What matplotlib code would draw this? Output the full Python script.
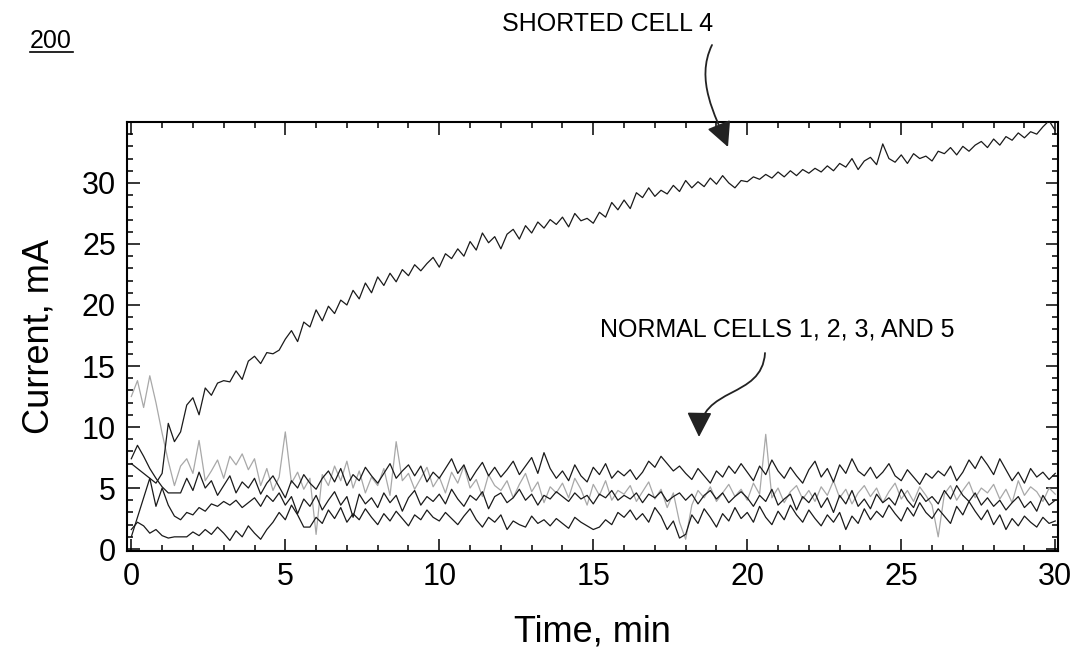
import matplotlib
matplotlib.use('Agg')
import matplotlib.pyplot as plt
import matplotlib.transforms as mtransforms
import numpy as np
from matplotlib.lines import Line2D
from matplotlib.patches import FancyArrowPatch
from matplotlib.path import Path

plt.rcParams['font.family'] = ['Liberation Sans', 'DejaVu Sans']

# sample times, min (0 to 30 every 0.2 min)
time_min = np.round(np.arange(151) * 0.2, 1)

# shorted cell 4, mA
shorted_cell_4 = [
    7.0, 6.6, 6.2, 5.8, 5.4, 6.2, 10.3, 8.8, 9.6, 11.8,
    12.4, 11.0, 13.2, 12.6, 13.6, 13.8, 13.7, 14.6, 13.9, 15.4,
    15.8, 15.2, 16.1, 16.0, 16.3, 17.2, 17.9, 17.0, 18.6, 18.2,
    19.6, 18.7, 19.9, 19.3, 20.4, 20.0, 21.2, 20.5, 21.8, 21.0,
    22.3, 21.6, 22.6, 21.9, 22.9, 22.4, 23.3, 22.8, 23.4, 23.9,
    23.1, 24.2, 23.8, 24.6, 24.0, 25.2, 24.5, 25.9, 25.1, 25.6,
    24.6, 25.8, 26.2, 25.4, 26.5, 25.9, 26.8, 26.3, 27.0, 26.6,
    27.2, 26.4, 27.5, 26.9, 27.1, 26.7, 27.6, 27.2, 28.4, 27.8,
    28.6, 27.9, 29.2, 28.8, 29.6, 28.9, 29.4, 29.1, 29.8, 29.3,
    30.2, 29.6, 30.1, 29.7, 30.4, 29.9, 30.6, 30.0, 29.6, 30.2,
    30.1, 30.5, 30.3, 30.7, 30.4, 30.9, 30.5, 31.0, 30.6, 31.1,
    30.8, 31.2, 30.9, 31.4, 31.0, 31.6, 31.3, 32.0, 31.1, 31.8,
    32.1, 31.5, 33.2, 32.0, 31.7, 32.3, 31.6, 32.4, 32.0, 32.2,
    31.8, 32.6, 32.4, 32.9, 32.3, 33.0, 32.6, 33.1, 33.4, 32.9,
    33.6, 33.1, 33.8, 33.5, 34.1, 33.7, 34.2, 34.0, 34.6, 35.1,
    34.3,
]

# normal cell drawn in light gray
normal_gray = [
    12.5, 13.8, 11.6, 14.2, 12.0, 9.5, 7.2, 5.2, 6.8, 7.4,
    6.2, 8.9, 5.6, 6.4, 7.3, 5.8, 7.6, 6.9, 7.8, 6.5,
    7.4, 5.2, 6.6, 4.8, 5.9, 9.6, 5.4, 6.3, 4.9, 5.8,
    1.2, 6.1, 5.2, 6.8, 5.6, 7.2, 5.0, 6.4, 4.6, 5.9,
    5.2, 6.6, 4.4, 8.8, 5.6, 6.2, 4.9, 5.8, 6.7, 5.1,
    5.9, 4.6, 6.3, 5.4, 6.8, 5.0, 5.7, 4.3, 6.1, 5.2,
    4.8, 5.6, 4.2, 5.3, 6.2, 4.7, 5.5, 3.8, 5.1, 4.6,
    5.4, 4.2, 5.8, 4.9, 3.6, 5.3, 4.4, 5.6, 4.0, 4.8,
    4.5, 5.2, 3.9, 4.7, 5.5, 4.1, 4.9, 3.4, 4.6, 2.2,
    0.8, 3.6, 4.8, 4.2, 5.1, 3.9, 4.6, 5.3, 4.3, 4.9,
    4.0, 5.4, 4.5, 9.4, 4.2, 5.0, 3.8, 4.7, 5.2, 4.1,
    4.8, 3.9, 5.1, 4.4, 5.6, 4.2, 4.9, 3.7, 4.6, 5.2,
    4.3, 5.0, 3.8, 4.7, 5.4, 4.1, 4.8, 3.9, 5.1, 4.4,
    3.6, 1.0, 4.5, 5.2, 4.0, 4.8, 5.5, 4.2, 5.0, 4.6,
    5.3, 4.1, 4.9, 3.8, 5.6, 4.4, 5.1, 4.7, 3.9, 5.0,
    4.5,
]

# normal cell, upper black trace
normal_upper = [
    7.4, 8.5, 7.6, 6.6, 5.8, 5.1, 4.6, 4.6, 4.6, 5.8,
    4.8, 6.3, 5.0, 5.6, 4.4, 5.2, 6.0, 4.6, 5.5, 5.0,
    5.8, 4.5, 5.4, 6.0, 5.1, 4.2, 5.6, 5.0, 6.1, 5.4,
    4.9, 5.8, 6.4, 5.5, 6.6, 5.2, 6.1, 5.6, 6.7, 6.0,
    5.4, 6.2, 7.0, 5.8, 6.4, 6.9, 6.0, 6.8, 5.5, 6.3,
    5.8, 6.6, 7.4, 6.2, 6.9, 5.6, 6.4, 7.1, 6.0, 6.7,
    5.9, 6.5, 7.2, 6.1, 6.8, 7.5, 6.2, 7.9, 6.6, 5.8,
    6.4, 5.6, 6.9, 6.0, 5.5, 6.7, 6.1, 7.0, 5.8, 6.4,
    6.0, 6.5, 5.7, 6.3, 7.2, 6.7, 7.6, 7.0, 6.4, 6.8,
    6.2, 5.7, 6.6, 6.0, 5.4, 6.4, 5.9, 6.8, 6.2, 7.0,
    6.3, 5.6, 6.8, 6.1, 7.3, 6.4, 5.8, 6.7, 6.0, 5.4,
    6.5, 7.2, 5.9, 6.6, 5.5, 6.9, 6.2, 7.4, 6.4, 6.0,
    6.7, 5.8, 6.3, 7.0, 6.0, 5.6, 6.5, 5.9, 5.3, 6.2,
    5.8, 6.4, 6.0, 6.8, 5.6, 6.3, 7.3, 6.6, 7.6, 6.9,
    6.1, 7.4, 6.5, 5.6, 6.3, 5.4, 6.6, 5.9, 6.3, 5.7,
    6.2,
]

# normal cell, middle black trace
normal_middle = [
    1.0, 2.6, 4.2, 5.8, 3.5, 5.0, 3.6, 2.7, 2.4, 3.0,
    2.8, 3.4, 3.1, 3.7, 3.5, 3.9, 3.6, 4.0, 3.4, 3.8,
    4.2, 3.5, 4.4, 3.9, 4.6, 3.6, 4.3, 2.9, 4.1, 3.5,
    4.4, 3.2, 4.0, 4.7, 3.6, 4.3, 2.6, 4.5, 3.7, 4.2,
    3.4, 4.6, 3.8, 4.4, 3.1, 4.2, 4.8, 3.6, 4.3, 3.9,
    4.5, 3.7, 4.9, 4.1, 3.5, 4.4, 4.0, 4.7, 3.3, 4.3,
    4.6, 3.8, 4.2, 4.9, 4.0, 4.5, 3.6, 4.4, 4.1, 4.7,
    4.3, 3.9, 4.6, 4.1, 4.4, 3.7, 4.5, 4.2, 4.8, 4.0,
    4.4, 4.1, 4.6, 3.8, 4.5, 4.2, 4.7, 3.9, 4.3, 4.6,
    4.0, 4.5, 3.7, 4.4, 4.8, 4.1, 4.6, 3.8, 4.3, 4.7,
    4.2, 3.5, 4.4, 3.9, 4.9, 3.6, 4.1, 4.5, 3.2, 4.3,
    3.8, 4.6, 3.4, 4.2, 3.0, 4.4, 3.7, 4.8, 3.5, 4.1,
    3.3, 4.5, 3.8, 4.2, 3.6, 4.9, 4.0, 3.4, 4.6, 3.9,
    4.3, 3.7, 4.8, 4.1, 5.2, 4.4, 3.9, 4.6, 3.6, 4.2,
    3.5, 4.0, 3.2, 3.8, 4.3, 3.4, 3.9, 3.1, 4.4, 3.6,
    4.0,
]

# normal cell, lower black trace
normal_lower = [
    1.6, 2.2, 1.9, 1.3, 1.6, 1.1, 0.9, 1.0, 1.0, 1.0,
    1.4, 1.1, 1.6, 1.2, 1.8, 1.3, 0.7, 1.5, 1.0, 1.9,
    1.3, 0.8, 1.6, 2.2, 3.0, 2.4, 3.6, 2.8, 1.8, 1.8,
    2.6, 2.1, 3.2, 2.5, 3.4, 2.2, 2.9, 2.4, 3.3, 2.6,
    2.0, 2.9, 2.3, 3.1, 2.5, 1.9, 2.8, 2.4, 3.2, 2.6,
    2.3, 3.0, 2.5, 2.0, 2.7, 3.3, 2.4, 1.8, 2.6, 2.2,
    2.8, 1.6, 2.3, 2.0, 1.8, 2.7, 2.1, 2.4, 1.9, 2.5,
    2.1, 1.7, 2.6, 2.2, 1.9, 1.6, 1.8, 2.4, 2.0, 3.0,
    2.6, 3.2, 2.4, 2.9, 2.2, 3.4, 2.7, 1.6, 2.3, 0.9,
    1.2, 2.8, 2.1, 3.3, 2.6, 1.8, 2.9, 2.3, 3.4, 2.5,
    3.0, 2.2, 3.5, 2.6, 2.0, 3.1, 2.4, 3.6, 2.8, 2.2,
    3.2, 2.5, 1.9, 2.8, 2.2, 3.0, 1.6, 2.7, 2.1, 3.3,
    2.4, 3.1, 2.6, 3.6, 2.9, 2.3, 3.4, 2.7, 3.8, 3.0,
    2.5, 3.3, 2.7, 2.1, 3.5, 2.8, 3.9, 3.1, 2.4, 3.2,
    2.0, 2.8, 1.6, 2.5, 1.9, 2.7, 2.2, 1.8, 2.6, 2.1,
    2.3,
]

W, H = 1073, 655
fig = plt.figure(figsize=(W / 100, H / 100), dpi=100)
ax = fig.add_axes([127 / W, 1 - 551 / H, (1058 - 127) / W, (551 - 121.7) / H])

# pixel coordinates measured from the top-left corner of the figure
px = mtransforms.Affine2D().scale(1 / W, -1 / H).translate(0, 1) + fig.transFigure

ax.plot(time_min, normal_gray, color='#a8a8a8', lw=0.9, zorder=2)
for series in (normal_middle, normal_lower, normal_upper):
    ax.plot(time_min, series, color='#1a1a1a', lw=0.9, zorder=3)
ax.plot(time_min, shorted_cell_4, color='#1a1a1a', lw=0.9, zorder=3)

ax.set_xlim(-0.14, 30.09)
ax.set_ylim(-0.16, 35.02)
ax.set_xticks(np.arange(0, 31, 5))
ax.set_xticks(np.arange(0, 31, 1), minor=True)
ax.set_yticks(np.arange(0, 31, 5))
ax.set_yticks(np.arange(0, 36, 1), minor=True)
ax.tick_params(which='both', direction='in', top=True, right=True, width=1.1, colors='black')
ax.tick_params(which='major', length=9, labelsize=22, pad=8)
ax.tick_params(which='minor', length=4.5)
for sp in ax.spines.values():
    sp.set_linewidth(1.5)

ax.set_xlabel('Time, min', fontsize=26, labelpad=16)
ax.set_ylabel('Current, mA', fontsize=26, labelpad=18)

fig.text(30 / W, 1 - 41 / H, '200', fontsize=18, ha='left', va='center')
fig.add_artist(Line2D([30 / W, 73 / W], [1 - 52 / H, 1 - 52 / H], color='black', lw=1.2))

fig.text(608 / W, 1 - 24 / H, 'SHORTED CELL 4', fontsize=18, ha='center', va='center')
fig.text(600 / W, 1 - 330 / H, 'NORMAL CELLS 1, 2, 3, AND 5', fontsize=18, ha='left', va='center')

arrow_paths = [
    [(712, 45), (695, 80), (715, 115), (728, 147)],
    [(765, 353), (762, 400), (700, 385), (699, 437)],
]
for pts in arrow_paths:
    path = Path(pts, [Path.MOVETO, Path.CURVE4, Path.CURVE4, Path.CURVE4])
    arrow = FancyArrowPatch(path=path, transform=px, arrowstyle='-|>,head_length=0.9,head_width=0.45',
                            mutation_scale=17, color='#222222', lw=1.3, shrinkA=0, shrinkB=0)
    fig.add_artist(arrow)

fig.savefig('out.png', dpi=100)
